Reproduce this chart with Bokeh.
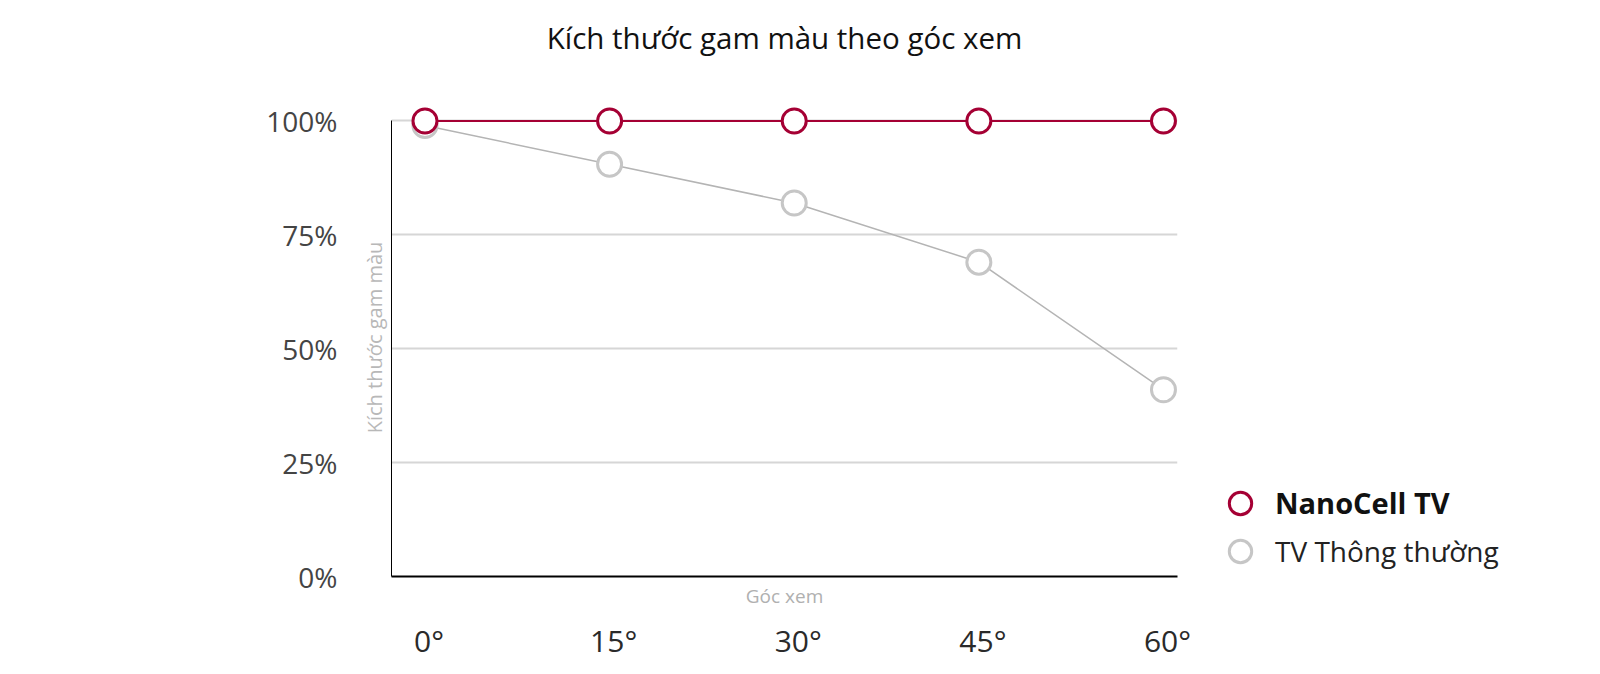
from bokeh.plotting import figure
from bokeh.layouts import row
from bokeh.models import (ColumnDataSource, FixedTicker, LinearAxis, Legend, LegendItem,
                          Range1d)
from bokeh.embed import file_html
from bokeh.resources import INLINE

# ---- data ----
angles = [0, 15, 30, 45, 60]
angle_labels = ["0°", "15°", "30°", "45°", "60°"]
nanocell = [100, 100, 100, 100, 100]
conventional = [99, 90.5, 82, 69, 41]
y_ticks = [0, 25, 50, 75, 100]
y_tick_labels = ["0%", "25%", "50%", "75%", "100%"]
series_names = ["NanoCell TV", "TV Thông thường"]
title_text = "Kích thước gam màu theo góc xem"
y_title = "Kích thước gam màu"
x_title = "Góc xem"

RED = "#a50034"
GRAY_MARK = "#c6c6c6"
GRAY_LINE = "#b4b4b4"
FONT = "Open Sans"

H = 674
PW = 1200
X0, X1 = -2.72, 61.14
Y0, Y1 = 0, 104.93
p = figure(width=PW, height=H, output_backend="svg", toolbar_location=None,
           title=None, x_range=(X0, X1), y_range=(Y0, Y1),
           min_border_left=391, min_border_right=PW - 1177,
           min_border_top=98, min_border_bottom=98)
p.outline_line_color = None
p.background_fill_color = "white"
p.border_fill_color = "white"

# keep references to the default axes before adding others
xa = p.below[0]
ya = p.left[0]

# tick-label range, nudged a few pixels right like the reference's labels
p.extra_x_ranges = {"xlab": Range1d(X0 - 0.33, X1 - 0.33)}

# chart title as the label of an axis above the frame
ta = LinearAxis(ticker=FixedTicker(ticks=[]), major_tick_out=0, major_tick_in=0,
                minor_tick_line_color=None, major_label_standoff=0,
                axis_line_color=None, axis_label=title_text,
                axis_label_standoff=41,
                axis_label_text_font=FONT, axis_label_text_font_size="29.5px",
                axis_label_text_font_style="normal",
                axis_label_text_color="#111111")
p.add_layout(ta, "above")

# inner x axis: axis line only
xa.ticker = FixedTicker(ticks=[])
xa.major_tick_out = 0
xa.major_tick_in = 0
xa.minor_tick_line_color = None
xa.major_label_standoff = 0
xa.axis_line_color = "black"
xa.axis_line_width = 2

# middle x axis: axis title
xa_t = LinearAxis(ticker=FixedTicker(ticks=[]),
                  major_tick_out=0, major_tick_in=0, minor_tick_line_color=None,
                  major_label_standoff=0, axis_line_color=None,
                  axis_label=x_title, axis_label_standoff=6,
                  axis_label_text_font=FONT, axis_label_text_font_size="19px",
                  axis_label_text_font_style="normal",
                  axis_label_text_color="#b0b0b0")
p.add_layout(xa_t, "below")

# outer x axis: tick labels
xa2 = LinearAxis(x_range_name="xlab", ticker=FixedTicker(ticks=angles),
                 major_label_overrides={a: l for a, l in zip(angles, angle_labels)},
                 axis_line_color=None, major_tick_line_color=None,
                 minor_tick_line_color=None, major_label_standoff=2,
                 major_label_text_font=FONT, major_label_text_font_size="30px",
                 major_label_text_color="#2a2a2a")
p.add_layout(xa2, "below")

# inner y axis: axis line + axis title
ya.ticker = FixedTicker(ticks=[])
ya.major_tick_out = 0
ya.major_tick_in = 0
ya.minor_tick_line_color = None
ya.major_label_standoff = 0
ya.axis_line_color = "black"
ya.axis_line_width = 1
ya.bounds = (0, 100)
ya.axis_label = y_title
ya.axis_label_standoff = 4
ya.axis_label_text_font = FONT
ya.axis_label_text_font_size = "20px"
ya.axis_label_text_font_style = "normal"
ya.axis_label_text_color = "#b8b8b8"

# outer y axis: tick labels
ya2 = LinearAxis(ticker=FixedTicker(ticks=y_ticks),
                 major_label_overrides={t: l for t, l in zip(y_ticks, y_tick_labels)},
                 axis_line_color=None, major_tick_line_color=None,
                 minor_tick_line_color=None, major_label_standoff=14,
                 major_label_text_font=FONT, major_label_text_font_size="28px",
                 major_label_text_color="#444444")
p.add_layout(ya2, "left")

p.xgrid.grid_line_color = None
p.ygrid.ticker = FixedTicker(ticks=y_ticks)
p.ygrid.grid_line_color = "#d6d6d6"
p.ygrid.grid_line_width = 2

src_c = ColumnDataSource(dict(x=angles, y=conventional))
src_n = ColumnDataSource(dict(x=angles, y=nanocell))

p.line("x", "y", source=src_c, line_color=GRAY_LINE, line_width=1.5)
p.scatter("x", "y", source=src_c, marker="circle", size=24,
          fill_color="white", line_color=GRAY_MARK, line_width=3)
p.line("x", "y", source=src_n, line_color=RED, line_width=2)
p.scatter("x", "y", source=src_n, marker="circle", size=24,
          fill_color="white", line_color=RED, line_width=3)

# legend panel (its frame is aligned with the chart frame by the row layout)
QW = 1600 - PW
q = figure(width=QW, height=H, output_backend="svg", toolbar_location=None,
           title=None, x_range=Range1d(1000, 1400), y_range=Range1d(1000, 1400),
           x_axis_location=None, y_axis_location=None, min_border=0)
q.outline_line_color = None
q.grid.visible = False
q.background_fill_color = "white"
q.border_fill_color = "white"

# legend-only renderers (their points fall outside this panel's ranges)
lr_n = q.scatter(angles, nanocell, marker="circle", size=24, fill_color="white",
                 line_color=RED, line_width=3)
lr_c = q.scatter(angles, conventional, marker="circle", size=24, fill_color="white",
                 line_color=GRAY_MARK, line_width=3)

common = dict(orientation="vertical", margin=0, padding=0, glyph_width=56,
              glyph_height=56, label_standoff=7, border_line_color=None,
              background_fill_alpha=0, label_text_font=FONT)
leg1 = Legend(items=[LegendItem(label=series_names[0], renderers=[lr_n])],
              location=(12, 45.5), label_text_font_size="29px",
              label_text_font_style="bold", label_text_color="#111111", **common)
leg2 = Legend(items=[LegendItem(label=series_names[1], renderers=[lr_c])],
              location=(12, -2.5), label_text_font_size="28px",
              label_text_font_style="normal", label_text_color="#222222", **common)
q.add_layout(leg1, "center")
q.add_layout(leg2, "center")

open("out.html", "w").write(file_html(row(p, q), INLINE))
